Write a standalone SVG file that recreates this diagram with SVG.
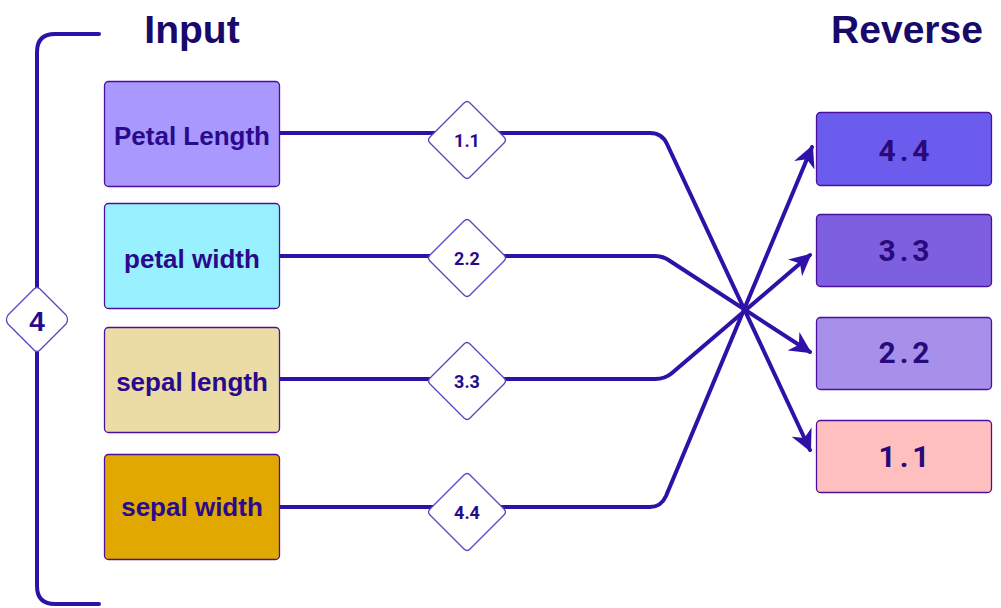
<svg xmlns="http://www.w3.org/2000/svg" width="1001" height="608" viewBox="0 0 1001 608">
<defs>
<style>
.title{font-family:"Liberation Sans",Arial,sans-serif;font-weight:bold;font-size:39px;fill:#170A6B}
.in{stroke:#4B0F9E;stroke-width:1.3}
.lbl{font-family:"Liberation Sans",Arial,sans-serif;font-weight:bold;font-size:26px;fill:#2A0A8C;text-anchor:middle}
.out{font-family:Roboto,"Liberation Sans",sans-serif;font-weight:bold;font-size:30px;fill:#2A0A7A;text-anchor:middle;letter-spacing:4px}
.dia{fill:#fff;stroke:#5544BB;stroke-width:1.3;stroke-linejoin:round}
.dl{font-family:Roboto,"Liberation Sans",sans-serif;font-weight:bold;font-size:18px;fill:#2A0A8C;text-anchor:middle}
.conn{fill:none;stroke:#2E12A8;stroke-width:4;stroke-linejoin:round;stroke-linecap:round}
</style>
<marker id="arr" viewBox="0 0 10 10" refX="9" refY="5" markerWidth="5.5" markerHeight="5.5" orient="auto" markerUnits="strokeWidth">
<path d="M0,0 L10,5 L0,10 L3,5 Z" fill="#2E12A8"/>
</marker>
</defs>
<rect width="1001" height="608" fill="#fff"/>
<text class="title" x="192" y="43" text-anchor="middle">Input</text>
<text class="title" x="907" y="43" text-anchor="middle">Reverse</text>

<g id="bracket">
<path class="conn" d="M99,34 H55 Q37,34 37,52 V586 Q37,604 55,604 H99"/>
<path class="dia" d="M34,289 Q37,286 40,289 L66,315 Q69,320 66,324 L40,350 Q37,353 34,350 L8,324 Q5,320 8,315 Z"/>
<text x="37" y="331" text-anchor="middle" style="font-family:'Liberation Sans',Arial,sans-serif;font-weight:bold;font-size:28px;fill:#2A0A8C">4</text>
</g>

<g id="connectors">
<path class="conn" d="M279,133 H650 Q662,133 667,144 L810,450" marker-end="url(#arr)"/>
<path class="conn" d="M279,256 H655 Q663,256 670,261 L810,352" marker-end="url(#arr)"/>
<path class="conn" d="M279,379 H655 Q665,379 672,373 L810,255" marker-end="url(#arr)"/>
<path class="conn" d="M279,507 H650 Q661,507 666,496 L812,147" marker-end="url(#arr)"/>
</g>

<g id="in1"><rect class="in" x="104.5" y="81.5" width="175" height="105" rx="4" fill="#A999FE"/><text class="lbl" x="192" y="145">Petal Length</text></g>
<g id="in2"><rect class="in" x="104.5" y="203.5" width="175" height="105" rx="4" fill="#99F0FF"/><text class="lbl" x="192" y="268">petal width</text></g>
<g id="in3"><rect class="in" x="104.5" y="327.5" width="175" height="105" rx="4" fill="#EBDCA6"/><text class="lbl" x="192" y="391">sepal length</text></g>
<g id="in4"><rect class="in" x="104.5" y="454.5" width="175" height="105" rx="4" fill="#E0A800"/><text class="lbl" x="192" y="516">sepal width</text></g>

<g id="d1"><path class="dia" d="M464,103 Q467,100 470,103 L504,137 Q507,140 504,143 L470,177 Q467,180 464,177 L430,143 Q427,140 430,137 Z"/><text class="dl" x="467" y="147">1.1</text></g>
<g id="d2"><path class="dia" d="M464,221 Q467,218 470,221 L504,255 Q507,258 504,261 L470,295 Q467,298 464,295 L430,261 Q427,258 430,255 Z"/><text class="dl" x="467" y="265">2.2</text></g>
<g id="d3"><path class="dia" d="M464,344 Q467,341 470,344 L504,378 Q507,381 504,384 L470,418 Q467,421 464,418 L430,384 Q427,381 430,378 Z"/><text class="dl" x="467" y="388">3.3</text></g>
<g id="d4"><path class="dia" d="M464,475 Q467,472 470,475 L504,509 Q507,512 504,515 L470,549 Q467,552 464,549 L430,515 Q427,512 430,509 Z"/><text class="dl" x="467" y="519">4.4</text></g>

<g id="out44"><rect class="in" x="816.5" y="112.5" width="175" height="73" rx="4" fill="#6C5CEE"/><text class="out" x="906" y="161">4.4</text></g>
<g id="out33"><rect class="in" x="816.5" y="214.5" width="175" height="72" rx="4" fill="#7E5FE0"/><text class="out" x="906" y="261">3.3</text></g>
<g id="out22"><rect class="in" x="816.5" y="317.5" width="175" height="72" rx="4" fill="#A690EA"/><text class="out" x="906" y="363">2.2</text></g>
<g id="out11"><rect class="in" x="816.5" y="420.5" width="175" height="72" rx="4" fill="#FFBFBF"/><text class="out" x="906" y="467">1.1</text></g>
</svg>
